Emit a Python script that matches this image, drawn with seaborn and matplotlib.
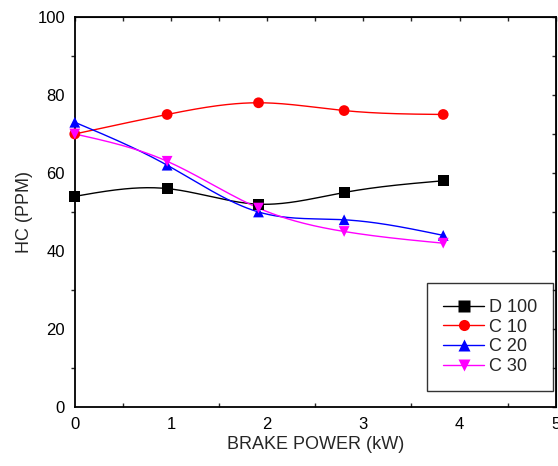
import numpy as np
import pandas as pd
import matplotlib
matplotlib.use("Agg")
import matplotlib.pyplot as plt
import seaborn as sns
from matplotlib.ticker import MultipleLocator
from matplotlib.lines import Line2D

# Datos
brake_power = [0.0, 0.96, 1.91, 2.80, 3.83]
hc_d100 = [54, 56, 52, 55, 58]
hc_c10 = [70, 75, 78, 76, 75]
hc_c20 = [73, 62, 50, 48, 44]
hc_c30 = [70, 63, 51, 45, 42]

series = ["D 100", "C 10", "C 20", "C 30"]
colors = ["black", "red", "blue", "magenta"]
markers = ["s", "o", "^", "v"]


def natural_spline(x, y, n=200):
    # curva suave para la linea (solo dibujo)
    x = np.asarray(x, float)
    y = np.asarray(y, float)
    k = len(x)
    h = np.diff(x)
    A = np.zeros((k, k))
    b = np.zeros(k)
    A[0, 0] = A[-1, -1] = 1
    for i in range(1, k - 1):
        A[i, i - 1] = h[i - 1]
        A[i, i] = 2 * (h[i - 1] + h[i])
        A[i, i + 1] = h[i]
        b[i] = 3 * ((y[i + 1] - y[i]) / h[i] - (y[i] - y[i - 1]) / h[i - 1])
    c = np.linalg.solve(A, b)
    xs = np.linspace(x[0], x[-1], n)
    ys = np.empty_like(xs)
    for j, xv in enumerate(xs):
        i = min(np.searchsorted(x, xv, side="right") - 1, k - 2)
        bi = (y[i + 1] - y[i]) / h[i] - h[i] * (2 * c[i] + c[i + 1]) / 3
        di = (c[i + 1] - c[i]) / (3 * h[i])
        t = xv - x[i]
        ys[j] = y[i] + bi * t + c[i] * t ** 2 + di * t ** 3
    return xs, ys


df = pd.DataFrame({"x": brake_power, "D 100": hc_d100, "C 10": hc_c10,
                   "C 20": hc_c20, "C 30": hc_c30})
long = df.melt(id_vars="x", var_name="fuel", value_name="hc")

sns.set_style("white")
plt.rcParams["font.family"] = ["Liberation Sans", "DejaVu Sans"]

fig = plt.figure(figsize=(5.58, 4.66), dpi=100)
ax = fig.add_axes([0.134, 0.1266, 0.862, 0.837])

for name, col in zip(series, colors):
    xs, ys = natural_spline(df["x"], df[name])
    ax.plot(xs, ys, color=col, lw=1.0, zorder=2)

sns.scatterplot(data=long, x="x", y="hc", hue="fuel", style="fuel",
                palette=dict(zip(series, colors)),
                markers=dict(zip(series, markers)),
                s=60, edgecolor="none", legend=False, ax=ax, zorder=3,
                clip_on=False)

ax.set_xlim(0, 5)
ax.set_ylim(0, 100)
ax.xaxis.set_major_locator(MultipleLocator(1))
ax.xaxis.set_minor_locator(MultipleLocator(0.5))
ax.yaxis.set_major_locator(MultipleLocator(20))
ax.yaxis.set_minor_locator(MultipleLocator(10))
ax.tick_params(which="major", direction="out", length=5, width=1,
               labelsize=12, colors="black", pad=2)
ax.tick_params(axis="y", which="minor", direction="out", length=3, width=1, left=True)
ax.tick_params(axis="x", which="minor", direction="in", length=3, width=1, bottom=True)
for s in ax.spines.values():
    s.set_color("black")
    s.set_linewidth(1.3)

top = ax.secondary_xaxis("top")
top.xaxis.set_major_locator(MultipleLocator(1))
top.xaxis.set_minor_locator(MultipleLocator(0.5))
top.tick_params(which="both", direction="in", length=3, width=1, labeltop=False)
right = ax.secondary_yaxis("right")
right.yaxis.set_major_locator(MultipleLocator(20))
right.yaxis.set_minor_locator(MultipleLocator(10))
right.tick_params(which="both", direction="in", length=3, width=1, labelright=False)

ax.set_xlabel("BRAKE POWER (kW)", fontsize=13, labelpad=3)
ax.set_ylabel("HC (PPM)", fontsize=13, labelpad=3)

handles = [Line2D([], [], color=c, marker=m, lw=1.0, markersize=8, markeredgecolor="none")
           for c, m in zip(colors, markers)]
leg = ax.legend(handles, series, loc="lower right", bbox_to_anchor=(0.995, 0.04),
                fontsize=13, frameon=True, fancybox=False, edgecolor="black",
                handlelength=2.3, handletextpad=0.25, labelspacing=0.15,
                borderpad=0.9, borderaxespad=0.0)
leg.get_frame().set_linewidth(1.0)

fig.savefig("out.png", dpi=100)
